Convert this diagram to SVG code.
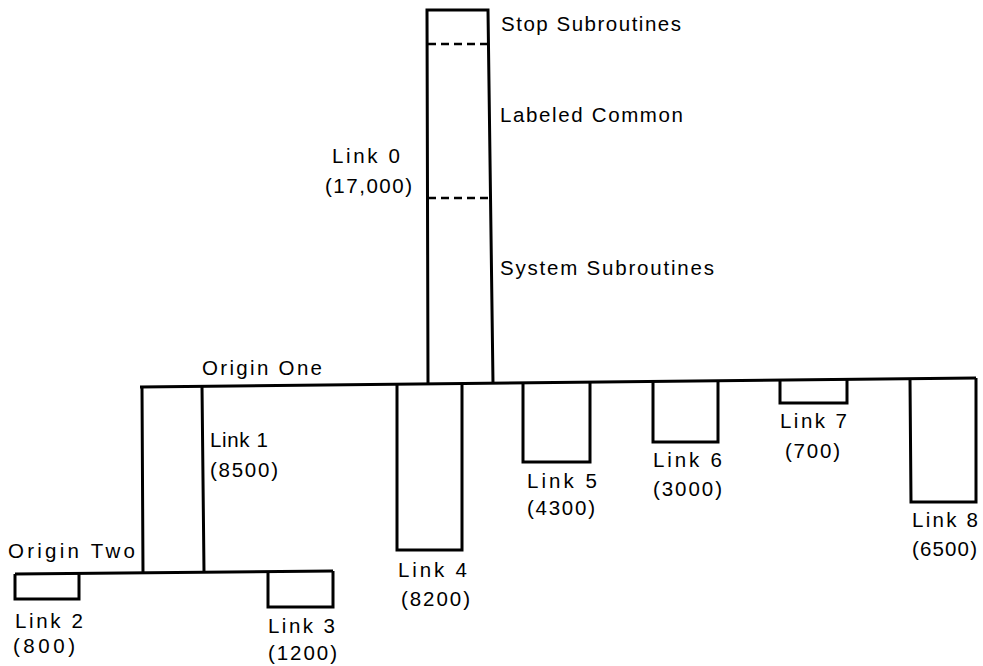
<svg xmlns="http://www.w3.org/2000/svg" width="983" height="666" viewBox="0 0 983 666">
<style>
.ln{fill:none;stroke:#000;stroke-width:3;stroke-linejoin:miter}
.ds{fill:none;stroke:#000;stroke-width:2.5;stroke-dasharray:8,5}
text{font-family:"Liberation Sans",Arial,sans-serif;font-size:20.5px;fill:#000}
</style>
<rect width="983" height="666" fill="#fff"/>
<g id="connectors">
<path class="ln" d="M140,387 L976,378"/>
<path class="ln" d="M15,574 L333,571"/>
</g>
<g id="link0">
<path class="ln" d="M428,384 L427,10 L488,10 L493,383"/>
<path class="ds" d="M428,44 L489,44"/>
<path class="ds" d="M428,198 L491,198"/>
<text x="501" y="31" textLength="180">Stop Subroutines</text>
<text x="500" y="122" textLength="183">Labeled Common</text>
<text x="332" y="163" textLength="68">Link 0</text>
<text x="325" y="193" textLength="87">(17,000)</text>
<text x="500" y="275" textLength="214">System Subroutines</text>
</g>
<g id="origin-one"><text x="202" y="375" textLength="120">Origin One</text></g>
<g id="link1">
<path class="ln" d="M142,387 L143,573 M202,386 L204,572"/>
<text x="210" y="447" textLength="58">Link 1</text>
<text x="210" y="477" textLength="68">(8500)</text>
</g>
<g id="origin-two"><text x="8" y="558" textLength="127">Origin Two</text></g>
<g id="link2">
<path class="ln" d="M15,574 L15,599 L79,599 L79,573"/>
<text x="15" y="628" textLength="68">Link 2</text>
<text x="13" y="653" textLength="62">(800)</text>
</g>
<g id="link3">
<path class="ln" d="M268,572 L268,607 L333,607 L333,571"/>
<text x="268" y="633" textLength="67">Link 3</text>
<text x="268" y="660" textLength="69">(1200)</text>
</g>
<g id="link4">
<path class="ln" d="M397,384 L397,550 L462,550 L462,383"/>
<text x="398" y="577" textLength="69">Link 4</text>
<text x="401" y="606" textLength="69">(8200)</text>
</g>
<g id="link5">
<path class="ln" d="M523,382 L523,462 L590,462 L590,381"/>
<text x="527" y="488" textLength="70">Link 5</text>
<text x="527" y="515" textLength="68">(4300)</text>
</g>
<g id="link6">
<path class="ln" d="M653,381 L653,442 L718,442 L718,380"/>
<text x="653" y="467" textLength="69">Link 6</text>
<text x="653" y="496" textLength="69">(3000)</text>
</g>
<g id="link7">
<path class="ln" d="M780,380 L780,403 L847,403 L847,379"/>
<text x="780" y="428" textLength="67">Link 7</text>
<text x="785" y="458" textLength="55">(700)</text>
</g>
<g id="link8">
<path class="ln" d="M910,379 L911,502 L976,502 L976,378"/>
<text x="912" y="527" textLength="66">Link 8</text>
<text x="912" y="556" textLength="65">(6500)</text>
</g>
</svg>
